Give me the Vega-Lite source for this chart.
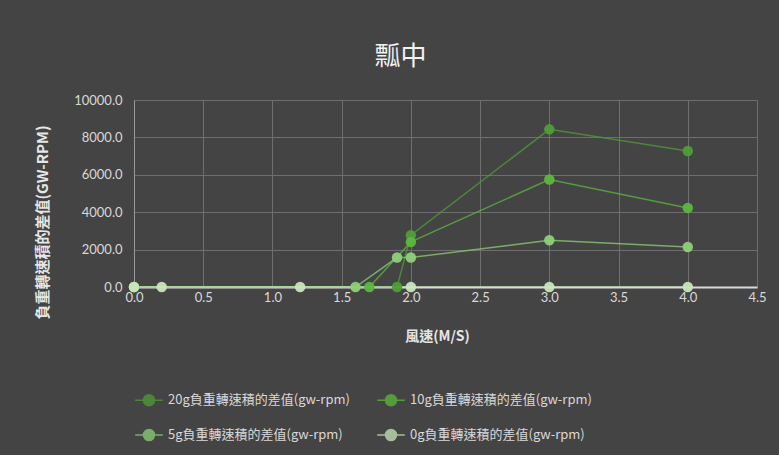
{
  "$schema": "https://vega.github.io/schema/vega-lite/v6.json",
  "width": 623,
  "height": 187,
  "autosize": {"type": "none"},
  "padding": {"left": 134, "top": 100, "right": 22, "bottom": 168},
  "background": "#444444",
  "title": {
    "text": "瓢中",
    "font": "Noto Sans CJK TC",
    "fontSize": 26,
    "fontWeight": "normal",
    "color": "#f2f2f2",
    "anchor": "middle",
    "frame": "bounds",
    "offset": 24
  },
  "data": {
    "values": [
      {"series": "20g負重轉速積的差值(gw-rpm)", "wind": 0.0, "diff": 0},
      {"series": "20g負重轉速積的差值(gw-rpm)", "wind": 1.9, "diff": 0},
      {"series": "20g負重轉速積的差值(gw-rpm)", "wind": 2.0, "diff": 2770},
      {"series": "20g負重轉速積的差值(gw-rpm)", "wind": 3.0, "diff": 8430},
      {"series": "20g負重轉速積的差值(gw-rpm)", "wind": 4.0, "diff": 7270},
      {"series": "10g負重轉速積的差值(gw-rpm)", "wind": 0.0, "diff": 0},
      {"series": "10g負重轉速積的差值(gw-rpm)", "wind": 1.7, "diff": 0},
      {"series": "10g負重轉速積的差值(gw-rpm)", "wind": 2.0, "diff": 2410},
      {"series": "10g負重轉速積的差值(gw-rpm)", "wind": 3.0, "diff": 5750},
      {"series": "10g負重轉速積的差值(gw-rpm)", "wind": 4.0, "diff": 4230},
      {"series": "5g負重轉速積的差值(gw-rpm)", "wind": 0.0, "diff": 0},
      {"series": "5g負重轉速積的差值(gw-rpm)", "wind": 1.6, "diff": 0},
      {"series": "5g負重轉速積的差值(gw-rpm)", "wind": 1.9, "diff": 1575},
      {"series": "5g負重轉速積的差值(gw-rpm)", "wind": 2.0, "diff": 1575},
      {"series": "5g負重轉速積的差值(gw-rpm)", "wind": 3.0, "diff": 2500},
      {"series": "5g負重轉速積的差值(gw-rpm)", "wind": 4.0, "diff": 2140},
      {"series": "0g負重轉速積的差值(gw-rpm)", "wind": 0.0, "diff": 0},
      {"series": "0g負重轉速積的差值(gw-rpm)", "wind": 0.2, "diff": 0},
      {"series": "0g負重轉速積的差值(gw-rpm)", "wind": 1.2, "diff": 0},
      {"series": "0g負重轉速積的差值(gw-rpm)", "wind": 2.0, "diff": 0},
      {"series": "0g負重轉速積的差值(gw-rpm)", "wind": 3.0, "diff": 0},
      {"series": "0g負重轉速積的差值(gw-rpm)", "wind": 4.0, "diff": 0}
    ]
  },
  "encoding": {
    "x": {
      "field": "wind",
      "type": "quantitative",
      "scale": {"domain": [0, 4.5], "nice": false, "zero": false},
      "axis": {
        "title": "風速(M/S)",
        "values": [0, 0.5, 1, 1.5, 2, 2.5, 3, 3.5, 4, 4.5],
        "format": ".1f",
        "labelFlush": false,
        "labelFont": "Lato",
        "labelFontSize": 13,
        "labelColor": "#d9d9d9",
        "labelPadding": 4,
        "ticks": false,
        "domainColor": "#d9d9d9",
        "domainWidth": 2,
        "gridColor": "#6e6e6e",
        "gridWidth": 1,
        "titleFont": "Noto Sans CJK TC",
        "titleFontSize": 14,
        "titleFontWeight": "bold",
        "titleColor": "#e6e6e6",
        "titleX": 303,
        "titleY": 49,
        "titleAlign": "center",
        "titleBaseline": "middle"
      }
    },
    "y": {
      "field": "diff",
      "type": "quantitative",
      "scale": {"domain": [0, 10000], "nice": false},
      "axis": {
        "title": "負重轉速積的差值(GW-RPM)",
        "values": [0, 2000, 4000, 6000, 8000, 10000],
        "format": ".1f",
        "labelFlush": false,
        "labelFont": "Lato",
        "labelFontSize": 13,
        "labelColor": "#d9d9d9",
        "labelPadding": 12,
        "ticks": false,
        "domainColor": "#9a9a9a",
        "domainWidth": 1,
        "gridColor": "#6e6e6e",
        "gridWidth": 1,
        "titleFont": "Noto Sans CJK TC",
        "titleFontSize": 15,
        "titleFontWeight": "bold",
        "titleColor": "#e6e6e6",
        "titleX": -92,
        "titleY": 122,
        "titleAngle": 270,
        "titleAlign": "center",
        "titleBaseline": "middle"
      }
    },
    "color": {
      "field": "series",
      "type": "nominal",
      "scale": {
        "domain": ["20g負重轉速積的差值(gw-rpm)", "10g負重轉速積的差值(gw-rpm)", "5g負重轉速積的差值(gw-rpm)", "0g負重轉速積的差值(gw-rpm)"],
        "range": ["#4f9e35", "#5cb83c", "#8dd077", "#c9e6bd"]
      },
      "legend": {
        "title": null,
        "orient": "none",
        "direction": "horizontal",
        "legendX": 0,
        "legendY": 285,
        "columns": 2,
        "columnPadding": 24,
        "rowPadding": 11,
        "labelFont": "Noto Sans CJK TC",
        "labelFontSize": 13,
        "labelColor": "#d9d9d9",
        "labelLimit": 400,
        "labelOffset": 4,
        "symbolType": "M-1,0L1,0M-0.4,0A0.4,0.4,0,1,1,0.4,0A0.4,0.4,0,1,1,-0.4,0Z",
        "symbolSize": 760,
        "symbolStrokeWidth": 1.5,
        "encode": {
          "symbols": {
            "update": {
              "fill": {"scale": "color", "field": "value"},
              "stroke": {"scale": "color", "field": "value"},
              "fillOpacity": {"value": 1},
              "strokeOpacity": {"value": 0.8}
            }
          }
        }
      }
    }
  },
  "layer": [
    {
      "mark": {"type": "line", "strokeWidth": 1.5, "opacity": 0.75},
      "encoding": {"order": {"field": "wind", "type": "quantitative"}}
    },
    {
      "mark": {"type": "point", "filled": true, "size": 110, "opacity": 0.95, "shape": "circle"}
    }
  ],
  "config": {
    "view": {"stroke": null}
  }
}
